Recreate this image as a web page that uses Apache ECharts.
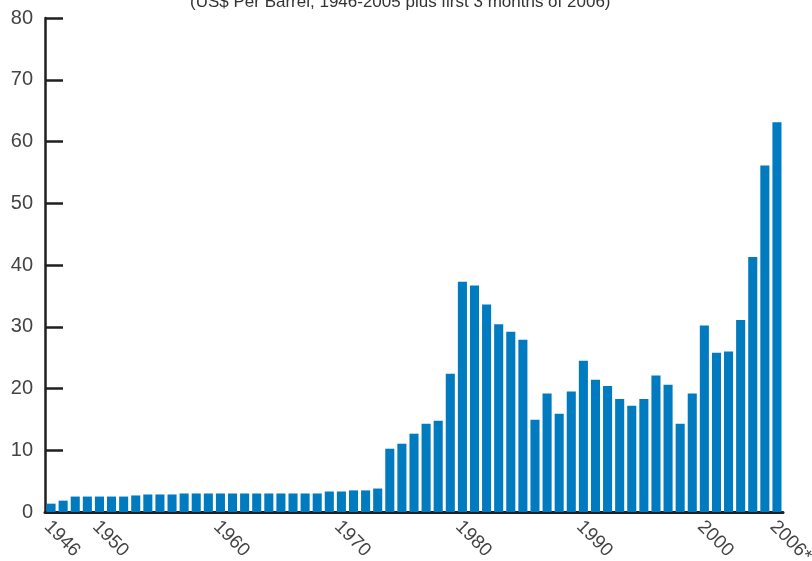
<!DOCTYPE html>
<html>
<head>
<meta charset="utf-8">
<script src="https://cdn.jsdelivr.net/npm/echarts@6/dist/echarts.min.js"></script>
<style>
  html, body { margin: 0; padding: 0; background: #fff; }
  #chart { width: 812px; height: 561px; }
</style>
</head>
<body>
<div id="chart"></div>
<script>
// Years on the category axis (2006 covers only the first three months)
const years = [
  '1946','1947','1948','1949','1950','1951','1952','1953','1954','1955',
  '1956','1957','1958','1959','1960','1961','1962','1963','1964','1965',
  '1966','1967','1968','1969','1970','1971','1972','1973','1974','1975',
  '1976','1977','1978','1979','1980','1981','1982','1983','1984','1985',
  '1986','1987','1988','1989','1990','1991','1992','1993','1994','1995',
  '1996','1997','1998','1999','2000','2001','2002','2003','2004','2005',
  '2006*'
];

// Crude oil price, US$ per barrel
const prices = [
  1.35, 1.84, 2.5, 2.5, 2.5, 2.5, 2.5, 2.68, 2.84, 2.84,
  2.84, 3.0, 3.0, 3.0, 3.0, 3.0, 3.0, 3.0, 3.0, 3.0,
  3.0, 3.0, 3.0, 3.32, 3.32, 3.5, 3.5, 3.8, 10.25, 11.06,
  12.68, 14.3, 14.79, 22.4, 37.3, 36.7, 33.6, 30.4, 29.2, 27.9,
  14.95, 19.2, 15.9, 19.5, 24.5, 21.4, 20.4, 18.3, 17.2, 18.3,
  22.1, 20.6, 14.3, 19.2, 30.2, 25.8, 26.0, 31.1, 41.3, 56.1,
  63.1
];

// Years that get a label under the axis
const tickLabels = ['1946', '1950', '1960', '1970', '1980', '1990', '2000', '2006*'];

const yTicks = { min: 0, max: 80, interval: 10 };

const labelFont = "'Liberation Sans', Arial, sans-serif";

const chart = echarts.init(document.getElementById('chart'), null, { renderer: 'canvas' });

chart.setOption({
  animation: false,
  backgroundColor: '#ffffff',
  title: {
    text: '(US$ Per Barrel, 1946-2005 plus first 3 months of 2006)',
    left: 185,
    top: -11,
    textStyle: {
      fontFamily: labelFont,
      fontSize: 17,
      fontWeight: 'normal',
      color: '#333333'
    }
  },
  grid: {
    left: 45, right: 29, top: 18, bottom: 49,
    containLabel: false,
    outerBoundsMode: 'none'
  },
  xAxis: {
    type: 'category',
    data: years,
    boundaryGap: true,
    axisLine: { show: true, lineStyle: { color: '#231f20', width: 3 } },
    axisTick: { show: false },
    splitLine: { show: false },
    axisLabel: {
      interval: (idx, val) => tickLabels.includes(val),
      rotate: -45,
      margin: 8,
      formatter: (val) => '{yr|' + val + '}',
      rich: {
        // extra top padding nudges each rotated year a little down and left
        yr: {
          padding: [11, 0, 0, 0],
          fontFamily: labelFont,
          fontSize: 19,
          color: '#444444'
        }
      },
      fontFamily: labelFont,
      fontSize: 19,
      color: '#444444'
    }
  },
  yAxis: {
    type: 'value',
    min: yTicks.min,
    max: yTicks.max,
    interval: yTicks.interval,
    axisLine: { show: true, lineStyle: { color: '#231f20', width: 2.5 } },
    axisTick: { show: true, inside: true, length: 18, lineStyle: { color: '#231f20', width: 2.5 } },
    splitLine: { show: false },
    axisLabel: {
      margin: 12,
      fontFamily: labelFont,
      fontSize: 20,
      color: '#444444'
    }
  },
  series: [{
    type: 'bar',
    data: prices,
    barCategoryGap: '25%',
    itemStyle: { color: '#007bbf' }
  }]
});
</script>
</body>
</html>
